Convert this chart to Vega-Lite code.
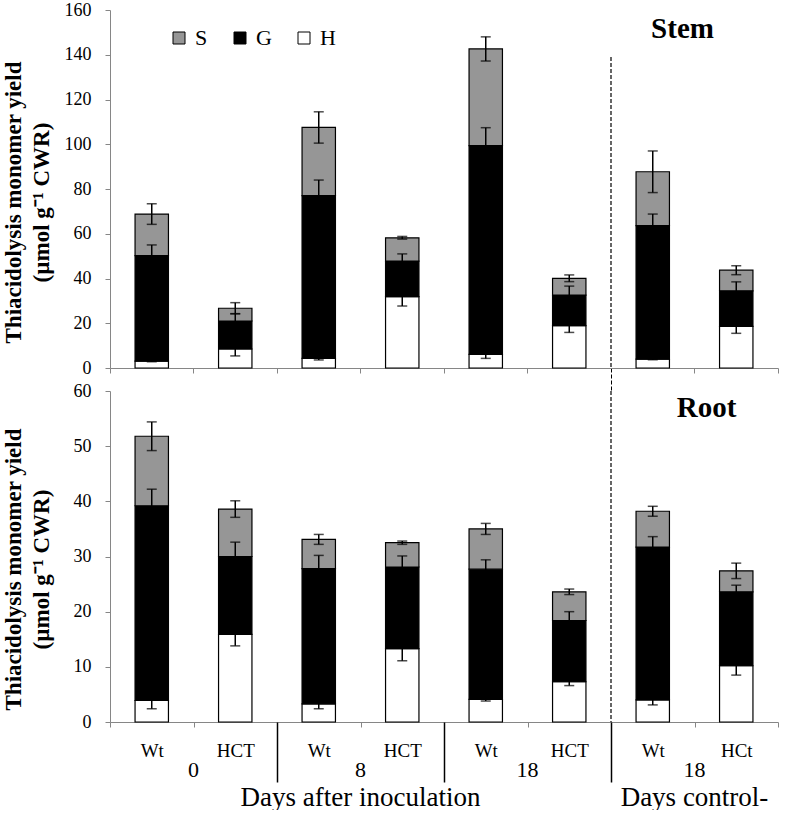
{
  "$schema": "https://vega.github.io/schema/vega-lite/v6.json",
  "background": "white",
  "padding": {"left": 2, "top": 1, "right": 5, "bottom": 0},
  "config": {
    "view": {"stroke": null},
    "font": "Liberation Serif",
    "axis": {"grid": false, "labelFont": "Liberation Serif", "titleFont": "Liberation Serif", "domainColor": "#868686", "tickColor": "#868686", "labelColor": "black", "titleColor": "black"}
  },
  "datasets": {
    "stemData": [
      {"cat": "Wt|0", "seg": "H", "rank": 1, "value": 3.1, "err": 0.3},
      {"cat": "Wt|0", "seg": "G", "rank": 2, "value": 47.1, "err": 4.8},
      {"cat": "Wt|0", "seg": "S", "rank": 3, "value": 18.6, "err": 4.6},
      {"cat": "HCT|0", "seg": "H", "rank": 1, "value": 8.5, "err": 3.1},
      {"cat": "HCT|0", "seg": "G", "rank": 2, "value": 12.5, "err": 3.3},
      {"cat": "HCT|0", "seg": "S", "rank": 3, "value": 5.7, "err": 2.5},
      {"cat": "Wt|8", "seg": "H", "rank": 1, "value": 4.3, "err": 0.7},
      {"cat": "Wt|8", "seg": "G", "rank": 2, "value": 72.7, "err": 7.0},
      {"cat": "Wt|8", "seg": "S", "rank": 3, "value": 30.5, "err": 7.0},
      {"cat": "HCT|8", "seg": "H", "rank": 1, "value": 31.9, "err": 4.2},
      {"cat": "HCT|8", "seg": "G", "rank": 2, "value": 15.9, "err": 3.2},
      {"cat": "HCT|8", "seg": "S", "rank": 3, "value": 10.4, "err": 0.6},
      {"cat": "Wt|18", "seg": "H", "rank": 1, "value": 6.1, "err": 1.8},
      {"cat": "Wt|18", "seg": "G", "rank": 2, "value": 93.3, "err": 8.0},
      {"cat": "Wt|18", "seg": "S", "rank": 3, "value": 43.2, "err": 5.4},
      {"cat": "HCT|18", "seg": "H", "rank": 1, "value": 18.9, "err": 3.0},
      {"cat": "HCT|18", "seg": "G", "rank": 2, "value": 13.7, "err": 4.0},
      {"cat": "HCT|18", "seg": "S", "rank": 3, "value": 7.5, "err": 1.5},
      {"cat": "Wt|18|ctrl", "seg": "H", "rank": 1, "value": 4.0, "err": 0.3},
      {"cat": "Wt|18|ctrl", "seg": "G", "rank": 2, "value": 59.6, "err": 5.2},
      {"cat": "Wt|18|ctrl", "seg": "S", "rank": 3, "value": 24.1, "err": 9.3},
      {"cat": "HCt|18|ctrl", "seg": "H", "rank": 1, "value": 18.6, "err": 3.1},
      {"cat": "HCt|18|ctrl", "seg": "G", "rank": 2, "value": 15.9, "err": 4.0},
      {"cat": "HCt|18|ctrl", "seg": "S", "rank": 3, "value": 9.2, "err": 2.0}
    ],
    "rootData": [
      {"cat": "Wt|0", "seg": "H", "rank": 1, "value": 3.9, "err": 1.5},
      {"cat": "Wt|0", "seg": "G", "rank": 2, "value": 35.3, "err": 3.0},
      {"cat": "Wt|0", "seg": "S", "rank": 3, "value": 12.6, "err": 2.6},
      {"cat": "HCT|0", "seg": "H", "rank": 1, "value": 15.9, "err": 2.1},
      {"cat": "HCT|0", "seg": "G", "rank": 2, "value": 14.1, "err": 2.6},
      {"cat": "HCT|0", "seg": "S", "rank": 3, "value": 8.6, "err": 1.5},
      {"cat": "Wt|8", "seg": "H", "rank": 1, "value": 3.3, "err": 0.9},
      {"cat": "Wt|8", "seg": "G", "rank": 2, "value": 24.5, "err": 2.4},
      {"cat": "Wt|8", "seg": "S", "rank": 3, "value": 5.3, "err": 0.9},
      {"cat": "HCT|8", "seg": "H", "rank": 1, "value": 13.3, "err": 2.2},
      {"cat": "HCT|8", "seg": "G", "rank": 2, "value": 14.8, "err": 2.0},
      {"cat": "HCT|8", "seg": "S", "rank": 3, "value": 4.4, "err": 0.3},
      {"cat": "Wt|18", "seg": "H", "rank": 1, "value": 4.1, "err": 0.3},
      {"cat": "Wt|18", "seg": "G", "rank": 2, "value": 23.6, "err": 1.7},
      {"cat": "Wt|18", "seg": "S", "rank": 3, "value": 7.3, "err": 1.0},
      {"cat": "HCT|18", "seg": "H", "rank": 1, "value": 7.3, "err": 0.7},
      {"cat": "HCT|18", "seg": "G", "rank": 2, "value": 11.1, "err": 1.6},
      {"cat": "HCT|18", "seg": "S", "rank": 3, "value": 5.2, "err": 0.5},
      {"cat": "Wt|18|ctrl", "seg": "H", "rank": 1, "value": 4.0, "err": 0.9},
      {"cat": "Wt|18|ctrl", "seg": "G", "rank": 2, "value": 27.7, "err": 1.9},
      {"cat": "Wt|18|ctrl", "seg": "S", "rank": 3, "value": 6.5, "err": 0.9},
      {"cat": "HCt|18|ctrl", "seg": "H", "rank": 1, "value": 10.2, "err": 1.7},
      {"cat": "HCt|18|ctrl", "seg": "G", "rank": 2, "value": 13.4, "err": 1.2},
      {"cat": "HCt|18|ctrl", "seg": "S", "rank": 3, "value": 3.8, "err": 1.4}
    ]
  },
  "vconcat": [
    {
      "width": 668,
      "height": 358,
      "resolve": {"axis": {"x": "independent", "y": "independent"}},
      "layer": [
        {
          "data": {"name": "stemData"},
          "transform": [{"stack": "value", "groupby": ["cat"], "sort": [{"field": "rank", "order": "ascending"}], "as": ["v0", "v1"]}],
          "mark": {"type": "bar", "width": {"band": 0.4}, "stroke": "black", "strokeWidth": 1.2},
          "encoding": {
            "x": {"field": "cat", "type": "nominal",
              "scale": {"domain": ["Wt|0","HCT|0","Wt|8","HCT|8","Wt|18","HCT|18","Wt|18|ctrl","HCt|18|ctrl"], "paddingInner": 0, "paddingOuter": 0},
              "axis": {"orient": "bottom", "title": null, "labels": false, "bandPosition": 1, "tickExtra": true,
                "tickSize": {"condition": {"test": "datum.value === 'HCT|18'", "value": 23}, "value": 5},
                "tickColor": {"condition": {"test": "datum.value === 'HCT|18'", "value": "black"}, "value": "#868686"},
                "tickDash": {"condition": {"test": "datum.value === 'HCT|18'", "value": [4, 2]}, "value": []}}},
            "y": {"field": "v0", "type": "quantitative", "scale": {"domain": [0, 160], "nice": false},
              "axis": {"orient": "left", "title": ["Thiacidolysis monomer yield", "(µmol g⁻¹ CWR)"], "values": [0,20,40,60,80,100,120,140,160], "tickSize": 5, "labelPadding": 14, "labelFontSize": 18, "titleFontSize": 23, "titleFontWeight": "bold", "titlePadding": 11, "titleLineHeight": 28, "titleY": 192}},
            "y2": {"field": "v1"},
            "color": {"field": "seg", "type": "nominal", "scale": {"domain": ["S", "G", "H"], "range": ["#969696", "#000000", "#ffffff"]},
              "legend": {"orient": "none", "legendX": 58, "legendY": 17, "direction": "horizontal", "columns": 3, "title": null, "symbolType": "square", "symbolSize": 144, "symbolStrokeColor": "black", "symbolStrokeWidth": 1, "labelFont": "Liberation Serif", "labelFontSize": 22, "labelColor": "black", "labelOffset": 5, "columnPadding": 21, "padding": 0}}
          }
        },
        {
          "data": {"name": "stemData"},
          "transform": [{"stack": "value", "groupby": ["cat"], "sort": [{"field": "rank", "order": "ascending"}], "as": ["v0", "v1"]}],
          "mark": {"type": "errorbar", "color": "black", "ticks": {"size": 10, "thickness": 1.5}, "rule": {"strokeWidth": 1.5}},
          "encoding": {
            "x": {"field": "cat", "type": "nominal", "scale": {"domain": ["Wt|0","HCT|0","Wt|8","HCT|8","Wt|18","HCT|18","Wt|18|ctrl","HCt|18|ctrl"], "paddingInner": 0, "paddingOuter": 0}, "axis": null},
            "y": {"field": "v1", "type": "quantitative", "scale": {"domain": [0, 160], "nice": false}, "axis": null},
            "yError": {"field": "err"}
          }
        },
        {
          "data": {"values": [{"cat": "Wt|18|ctrl"}]},
          "mark": {"type": "rule", "color": "black", "strokeWidth": 1.2, "strokeDash": [4, 2]},
          "encoding": {
            "x": {"field": "cat", "type": "nominal", "bandPosition": 0, "scale": {"domain": ["Wt|0","HCT|0","Wt|8","HCT|8","Wt|18","HCT|18","Wt|18|ctrl","HCt|18|ctrl"], "paddingInner": 0, "paddingOuter": 0}, "axis": null},
            "y": {"datum": 139, "type": "quantitative", "scale": {"domain": [0, 160], "nice": false}, "axis": null},
            "y2": {"datum": 0}
          }
        },
        {
          "data": {"values": [{"panel": "Stem", "cat": "HCt|18|ctrl"}]},
          "mark": {"type": "text", "font": "Liberation Serif", "fontWeight": "bold", "fontSize": 29, "color": "black", "baseline": "alphabetic", "dx": -12},
          "encoding": {
            "x": {"field": "cat", "type": "nominal", "bandPosition": 0, "scale": {"domain": ["Wt|0","HCT|0","Wt|8","HCT|8","Wt|18","HCT|18","Wt|18|ctrl","HCt|18|ctrl"], "paddingInner": 0, "paddingOuter": 0}, "axis": null},
            "y": {"datum": 147.4, "type": "quantitative", "scale": {"domain": [0, 160], "nice": false}, "axis": null},
            "text": {"field": "panel"}
          }
        }
      ]
    },
    {
      "width": 668,
      "height": 331,
      "resolve": {"axis": {"x": "independent", "y": "independent"}},
      "layer": [
        {
          "data": {"name": "rootData"},
          "transform": [{"stack": "value", "groupby": ["cat"], "sort": [{"field": "rank", "order": "ascending"}], "as": ["v0", "v1"]}],
          "mark": {"type": "bar", "width": {"band": 0.4}, "stroke": "black", "strokeWidth": 1.2},
          "encoding": {
            "x": {"field": "cat", "type": "nominal",
              "scale": {"domain": ["Wt|0","HCT|0","Wt|8","HCT|8","Wt|18","HCT|18","Wt|18|ctrl","HCt|18|ctrl"], "paddingInner": 0, "paddingOuter": 0},
              "axis": {"orient": "bottom", "title": null, "tickBand": "extent", "tickSize": 5, "labelAngle": 0, "labelFontSize": 19, "labelPadding": 14, "labelExpr": "datum.value ? split(datum.value, '|')[0] : ''"}},
            "y": {"field": "v0", "type": "quantitative", "scale": {"domain": [0, 60], "nice": false},
              "axis": {"orient": "left", "title": ["Thiacidolysis monomer yield", "(µmol g⁻¹ CWR)"], "values": [0,10,20,30,40,50,60], "tickSize": 5, "labelPadding": 14, "labelFontSize": 18, "titleFontSize": 23, "titleFontWeight": "bold", "titlePadding": 20, "titleLineHeight": 28, "titleY": 178}},
            "y2": {"field": "v1"},
            "color": {"field": "seg", "type": "nominal", "scale": {"domain": ["S", "G", "H"], "range": ["#969696", "#000000", "#ffffff"]},
              "legend": {"orient": "none", "legendX": 58, "legendY": 17, "direction": "horizontal", "columns": 3, "title": null, "symbolType": "square", "symbolSize": 144, "symbolStrokeColor": "black", "symbolStrokeWidth": 1, "labelFont": "Liberation Serif", "labelFontSize": 22, "labelColor": "black", "labelOffset": 5, "columnPadding": 21, "padding": 0}}
          }
        },
        {
          "data": {"name": "rootData"},
          "transform": [{"stack": "value", "groupby": ["cat"], "sort": [{"field": "rank", "order": "ascending"}], "as": ["v0", "v1"]}],
          "mark": {"type": "errorbar", "color": "black", "ticks": {"size": 10, "thickness": 1.5}, "rule": {"strokeWidth": 1.5}},
          "encoding": {
            "x": {"field": "cat", "type": "nominal", "scale": {"domain": ["Wt|0","HCT|0","Wt|8","HCT|8","Wt|18","HCT|18","Wt|18|ctrl","HCt|18|ctrl"], "paddingInner": 0, "paddingOuter": 0}, "axis": null},
            "y": {"field": "v1", "type": "quantitative", "scale": {"domain": [0, 60], "nice": false}, "axis": null},
            "yError": {"field": "err"}
          }
        },
        {
          "data": {"values": [{"cat": "Wt|18|ctrl"}]},
          "mark": {"type": "rule", "color": "black", "strokeWidth": 1.2, "strokeDash": [4, 2]},
          "encoding": {
            "x": {"field": "cat", "type": "nominal", "bandPosition": 0, "scale": {"domain": ["Wt|0","HCT|0","Wt|8","HCT|8","Wt|18","HCT|18","Wt|18|ctrl","HCt|18|ctrl"], "paddingInner": 0, "paddingOuter": 0},
              "axis": {"orient": "bottom", "title": null, "domain": false, "bandPosition": 0, "tickSize": 60, "tickWidth": 1.5, "tickColor": "black",
                "tickOpacity": {"condition": {"test": "datum.value === 'Wt|8' || datum.value === 'Wt|18' || datum.value === 'Wt|18|ctrl'", "value": 1}, "value": 0},
                "labelAngle": 0, "labelFontSize": 22, "labelPadding": -23, "labelOffset": -41.75, "labelExpr": "split(datum.value, '|')[0] === 'Wt' ? '' : split(datum.value, '|')[1]"}},
            "y": {"datum": 60, "type": "quantitative", "scale": {"domain": [0, 60], "nice": false}, "axis": null},
            "y2": {"datum": 0}
          }
        },
        {
          "data": {"values": [{"panel": "Root", "cat": "HCt|18|ctrl"}]},
          "mark": {"type": "text", "font": "Liberation Serif", "fontWeight": "bold", "fontSize": 29, "color": "black", "baseline": "alphabetic", "dx": 12},
          "encoding": {
            "x": {"field": "cat", "type": "nominal", "bandPosition": 0, "scale": {"domain": ["Wt|0","HCT|0","Wt|8","HCT|8","Wt|18","HCT|18","Wt|18|ctrl","HCt|18|ctrl"], "paddingInner": 0, "paddingOuter": 0},
              "axis": {"orient": "bottom", "title": null, "domain": false, "ticks": false, "bandPosition": 0, "labelAngle": 0, "labelFontSize": 27, "labelPadding": 62, "labelOffset": -41.75, "labelLimit": 600,
                "labelExpr": "datum.value === 'HCT|8' ? 'Days after inoculation' : (datum.value === 'HCt|18|ctrl' ? 'Days control-' : '')"}},
            "y": {"datum": 55.2, "type": "quantitative", "scale": {"domain": [0, 60], "nice": false}, "axis": null},
            "text": {"field": "panel"}
          }
        }
      ]
    }
  ],
  "spacing": 23,
  "bounds": "flush"
}
